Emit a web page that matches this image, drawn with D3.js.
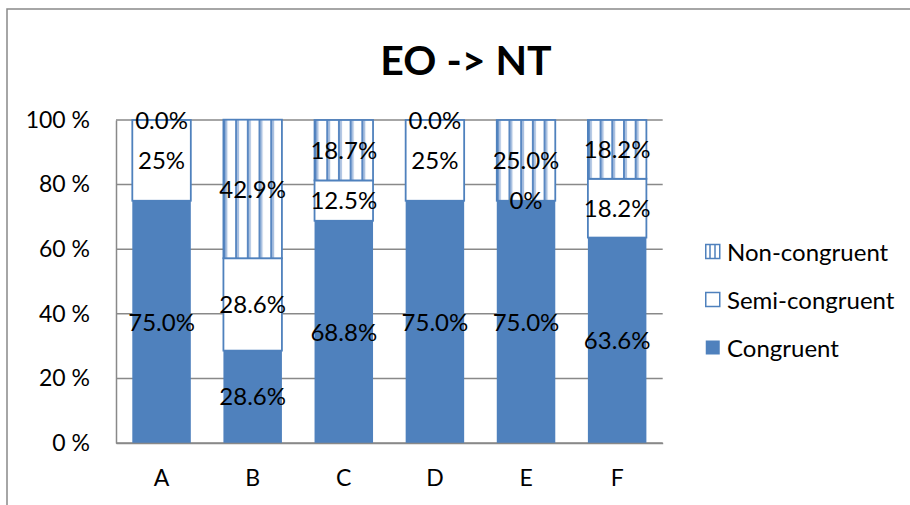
<!DOCTYPE html>
<html>
<head>
<meta charset="utf-8">
<script src="https://cdn.jsdelivr.net/npm/d3@7"></script>
<style>
  html, body { margin: 0; padding: 0; background: #fff; }
  svg { display: block; font-family: Lato, "Open Sans", sans-serif; }
</style>
</head>
<body>
<svg id="chart" width="910" height="505"></svg>
<script>
// Categories and the three stacked shares (percent) per category
const categories = ["A", "B", "C", "D", "E", "F"];
const congruent    = [75.0, 28.6, 68.8, 75.0, 75.0, 63.6];
const semiCongruent = [25.0, 28.6, 12.5, 25.0, 0.0, 18.2];
const nonCongruent  = [0.0, 42.9, 18.7, 0.0, 25.0, 18.2];

// Printed labels for each segment
const congruentLabels = ["75.0%", "28.6%", "68.8%", "75.0%", "75.0%", "63.6%"];
const semiLabels      = ["25%", "28.6%", "12.5%", "25%", "0%", "18.2%"];
const nonLabels       = ["0.0%", "42.9%", "18.7%", "0.0%", "25.0%", "18.2%"];

const seriesNames = ["Congruent", "Semi-congruent", "Non-congruent"];
const yTicks = [0, 20, 40, 60, 80, 100];
const title = "EO -> NT";

const BLUE = "#4F81BD";
const GRID = "#898989";
const FS = 24;

const svg = d3.select("#chart");

// Outer chart frame
svg.append("rect")
  .attr("x", 7).attr("y", 9)
  .attr("width", 1000).attr("height", 1000)
  .attr("fill", "none").attr("stroke", GRID).attr("stroke-width", 1.5);

// Title
svg.append("text")
  .attr("x", 466).attr("y", 75)
  .attr("text-anchor", "middle")
  .attr("font-weight", "bold")
  .attr("font-size", 41)
  .attr("fill", "#000")
  .text(title);

const x = d3.scaleBand()
  .domain(categories)
  .range([116, 662.7])
  .paddingInner(0.358)
  .paddingOuter(0.179);

const y = d3.scaleLinear().domain([0, 100]).range([443, 120]);

// Striped fill for the non-congruent segments
const defs = svg.append("defs");
const pat = defs.append("pattern")
  .attr("id", "stripes")
  .attr("patternUnits", "objectBoundingBox")
  .attr("patternContentUnits", "userSpaceOnUse")
  .attr("width", 0.2).attr("height", 1);
pat.append("rect").attr("x", 0).attr("y", 0).attr("width", 12).attr("height", 400).attr("fill", "#fff");
pat.append("rect").attr("x", 0).attr("y", 0).attr("width", 2).attr("height", 400).attr("fill", "#5a88c2");
pat.append("rect").attr("x", 2).attr("y", 0).attr("width", 2).attr("height", 400).attr("fill", "#a9c0e0");

// Horizontal gridlines
svg.append("g")
  .selectAll("line")
  .data(yTicks)
  .join("line")
  .attr("x1", 116).attr("x2", 662.7)
  .attr("y1", d => y(d)).attr("y2", d => y(d))
  .attr("stroke", GRID).attr("stroke-width", 1.5);

// Stack the three series
const rows = categories.map((c, i) => ({
  cat: c,
  "Congruent": congruent[i],
  "Semi-congruent": semiCongruent[i],
  "Non-congruent": nonCongruent[i]
}));
const stacked = d3.stack().keys(seriesNames)(rows);

const fills = {
  "Congruent": BLUE,
  "Semi-congruent": "#ffffff",
  "Non-congruent": "url(#stripes)"
};
const labelSets = {
  "Congruent": congruentLabels,
  "Semi-congruent": semiLabels,
  "Non-congruent": nonLabels
};

const barsG = svg.append("g");
stacked.forEach(layer => {
  const g = barsG.append("g");
  g.selectAll("rect")
    .data(layer)
    .join("rect")
    .attr("x", d => x(d.data.cat))
    .attr("width", x.bandwidth())
    .attr("y", d => y(d[1]))
    .attr("height", d => y(d[0]) - y(d[1]))
    .attr("fill", fills[layer.key])
    .attr("stroke", layer.key === "Congruent" ? "none" : BLUE)
    .attr("stroke-width", 1.8);
});

// Y axis
const yAxis = svg.append("g")
  .attr("transform", "translate(116,0)")
  .call(d3.axisLeft(y).tickValues(yTicks).tickSize(0).tickPadding(26).tickFormat(d => d + " %"));
yAxis.select(".domain").attr("stroke", GRID).attr("stroke-width", 1.5);
yAxis.selectAll("text")
  .attr("font-family", "Lato, 'Open Sans', sans-serif")
  .attr("font-size", 23).attr("fill", "#000");

// X axis
const xAxis = svg.append("g")
  .attr("transform", "translate(0,443)")
  .call(d3.axisBottom(x).tickSize(0).tickPadding(27));
xAxis.select(".domain").attr("stroke", GRID).attr("stroke-width", 1.5);
xAxis.selectAll("text")
  .attr("font-family", "Lato, 'Open Sans', sans-serif")
  .attr("font-size", 23).attr("fill", "#000");

// Segment value labels
const labelsG = svg.append("g");
stacked.forEach(layer => {
  labelsG.append("g")
    .selectAll("text")
    .data(layer)
    .join("text")
    .attr("x", d => x(d.data.cat) + x.bandwidth() / 2)
    .attr("y", d => y((d[0] + d[1]) / 2))
    .attr("dy", "0.36em")
    .attr("text-anchor", "middle")
    .attr("font-size", FS)
    .attr("fill", "#000")
    .text((d, i) => labelSets[layer.key][i]);
});

// Legend (top entry is the top of the stack)
const legendOrder = ["Non-congruent", "Semi-congruent", "Congruent"];
const legend = svg.append("g")
  .selectAll("g")
  .data(legendOrder)
  .join("g")
  .attr("transform", (d, i) => `translate(705,${252 + i * 48})`);
legend.append("rect")
  .attr("x", 0.75).attr("y", -7.5)
  .attr("width", 14).attr("height", 14)
  .attr("fill", d => d === "Non-congruent" ? "#fff" : fills[d])
  .attr("stroke", d => d === "Congruent" ? "none" : BLUE)
  .attr("stroke-width", 1.5);
legend.filter(d => d === "Non-congruent")
  .selectAll("line")
  .data([5, 10])
  .join("line")
  .attr("x1", d => d).attr("x2", d => d)
  .attr("y1", -7).attr("y2", 7)
  .attr("stroke", BLUE).attr("stroke-width", 1.5);
legend.append("text")
  .attr("x", 22).attr("y", 0)
  .attr("dy", "0.36em")
  .attr("font-size", FS)
  .attr("fill", "#000")
  .text(d => d);
</script>
</body>
</html>
